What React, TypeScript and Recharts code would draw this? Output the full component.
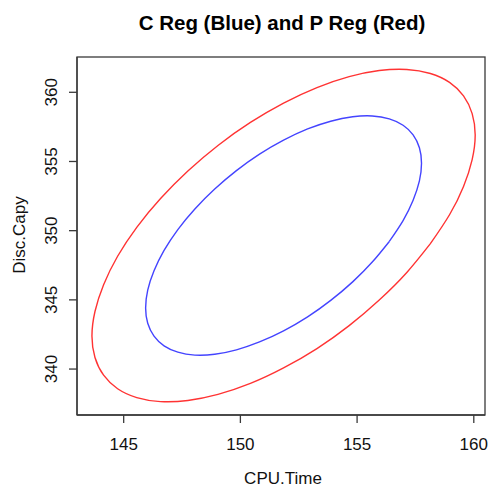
import React from "react";
import { LineChart, Line, XAxis, YAxis } from "recharts";

// axis ticks
const xTicks = [145, 150, 155, 160];
const yTicks = [340, 345, 350, 355, 360];

// C Reg ellipse (blue), points read around the outline, clockwise from the lower-right side
const cRegX = [156.38, 155.65, 154.81, 153.87, 152.88, 151.85, 150.82, 149.83, 148.9, 148.05, 147.32, 146.73, 146.3, 146.03, 145.94, 146.03, 146.3, 146.73, 147.32, 148.05, 148.9, 149.83, 150.82, 151.85, 152.88, 153.87, 154.81, 155.65, 156.38, 156.97, 157.4, 157.67, 157.76, 157.67, 157.4, 156.97];
const cRegY = [349.22, 347.73, 346.3, 344.96, 343.77, 342.76, 341.96, 341.39, 341.07, 341.01, 341.22, 341.68, 342.38, 343.31, 344.42, 345.7, 347.1, 348.57, 350.08, 351.57, 353.01, 354.34, 355.53, 356.54, 357.35, 357.91, 358.23, 358.29, 358.08, 357.62, 356.92, 355.99, 354.88, 353.6, 352.2, 350.73];

// P Reg ellipse (red), same order
const pRegX = [158.14, 157.13, 155.95, 154.66, 153.28, 151.85, 150.43, 149.04, 147.75, 146.58, 145.56, 144.74, 144.14, 143.77, 143.64, 143.77, 144.14, 144.74, 145.56, 146.58, 147.75, 149.04, 150.43, 151.85, 153.28, 154.66, 155.95, 157.13, 158.14, 158.96, 159.56, 159.93, 160.06, 159.93, 159.56, 158.96];
const pRegY = [349.06, 346.98, 344.99, 343.14, 341.48, 340.08, 338.96, 338.17, 337.73, 337.65, 337.94, 338.58, 339.56, 340.84, 342.39, 344.16, 346.1, 348.15, 350.24, 352.32, 354.31, 356.16, 357.82, 359.22, 360.34, 361.13, 361.57, 361.65, 361.36, 360.72, 359.74, 358.46, 356.91, 355.14, 353.2, 351.15];

const toPoints = (xs: number[], ys: number[]) => {
  const pts = xs.map((x, i) => ({ x, y: ys[i] }));
  return [...pts, pts[0]];
};

const cReg = toPoints(cRegX, cRegY);
const pReg = toPoints(pRegX, pRegY);

const font = "'Liberation Sans', Arial, Helvetica, sans-serif";
const axisColor = "#3a3a3a";

const XTick = (props: any) => (
  <text x={props.x} y={450} textAnchor="middle" fontSize={17} fontFamily={font} fill="#111">
    {props.payload.value}
  </text>
);

const YTick = (props: any) => (
  <text
    x={57.5}
    y={props.y}
    transform={`rotate(-90, 57.5, ${props.y})`}
    textAnchor="middle"
    fontSize={17}
    fontFamily={font}
    fill="#111"
  >
    {props.payload.value}
  </text>
);

export default function App() {
  return (
    <div style={{ position: "absolute", left: 0, top: 0, width: 489, height: 487, background: "#fff" }}>
      <LineChart width={489} height={487} margin={{ top: 57, right: 4, bottom: 0, left: 0 }}>
        <XAxis
          dataKey="x"
          type="number"
          domain={[143, 160.48]}
          ticks={xTicks}
          allowDataOverflow
          height={72}
          tickSize={8}
          tickLine={{ stroke: axisColor, strokeWidth: 1.3 }}
          axisLine={{ stroke: axisColor, strokeWidth: 1.3 }}
          tick={XTick}
        />
        <YAxis
          dataKey="y"
          type="number"
          domain={[336.68, 362.55]}
          ticks={yTicks}
          allowDataOverflow
          width={77}
          tickSize={8}
          tickLine={{ stroke: axisColor, strokeWidth: 1.3 }}
          axisLine={{ stroke: axisColor, strokeWidth: 1.3 }}
          tick={YTick}
        />
        <Line
          data={pReg}
          dataKey="y"
          type="natural"
          stroke="#ff3333"
          strokeWidth={1.4}
          dot={false}
          isAnimationActive={false}
        />
        <Line
          data={cReg}
          dataKey="y"
          type="natural"
          stroke="#4444ff"
          strokeWidth={1.4}
          dot={false}
          isAnimationActive={false}
        />
      </LineChart>
      <svg width={489} height={487} style={{ position: "absolute", left: 0, top: 0, pointerEvents: "none" }}>
        <rect x={77} y={57} width={408} height={358} fill="none" stroke={axisColor} strokeWidth={1.3} />
        <text x={282} y={30} textAnchor="middle" fontSize={20.5} fontWeight="bold" fontFamily={font} fill="#000">
          C Reg (Blue) and P Reg (Red)
        </text>
        <text x={283} y={483.5} textAnchor="middle" fontSize={17} fontFamily={font} fill="#111">
          CPU.Time
        </text>
        <text x={24.5} y={235} transform="rotate(-90, 24.5, 235)" textAnchor="middle" fontSize={17} fontFamily={font} fill="#111">
          Disc.Capy
        </text>
      </svg>
    </div>
  );
}
